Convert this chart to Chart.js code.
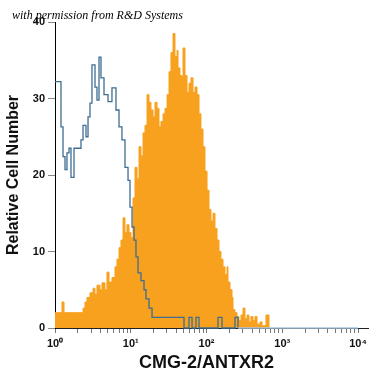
<!DOCTYPE html>
<html>
<head>
<meta charset="utf-8">
<script src="https://cdn.jsdelivr.net/npm/chart.js@4.4.1/dist/chart.umd.min.js"></script>
<style>
  html, body { margin: 0; padding: 0; background: #fff; }
  #wrap { width: 375px; height: 375px; position: relative; }
</style>
</head>
<body>
<div id="wrap"><canvas id="chart_cmg2"></canvas></div>
<script>
// stained cells (orange): bin start in decades (log10 of intensity) and count
var stainLog = [
  0.000, 0.092, 0.119, 0.370, 0.396, 0.422, 0.462, 0.502, 0.528, 0.554,
  0.594, 0.620, 0.660, 0.686, 0.713, 0.752, 0.792, 0.818, 0.845, 0.871,
  0.898, 0.924, 0.950, 0.977, 1.003, 1.030, 1.056, 1.083, 1.109, 1.135,
  1.162, 1.188, 1.215, 1.241, 1.267, 1.294, 1.320, 1.347, 1.373, 1.399,
  1.426, 1.452, 1.479, 1.505, 1.531, 1.558, 1.584, 1.611, 1.624, 1.650,
  1.677, 1.690, 1.716, 1.743, 1.769, 1.795, 1.822, 1.848, 1.875, 1.901,
  1.927, 1.954, 1.980, 2.007, 2.033, 2.059, 2.086, 2.112, 2.139, 2.165,
  2.191, 2.218, 2.244, 2.271, 2.284, 2.310, 2.337, 2.350, 2.376, 2.403,
  2.429, 2.455, 2.482, 2.508, 2.535, 2.561, 2.587, 2.614, 2.640, 2.667,
  2.706, 2.733, 2.785, 2.825
];
var stainCount = [
  2.0, 3.4, 2.0, 2.6, 3.4, 4.0, 4.6, 5.2, 4.4, 5.6,
  5.0, 5.9, 5.0, 7.3, 6.0, 6.6, 8.0, 9.0, 10.5, 11.5,
  14.4, 12.5, 13.5, 12.5, 11.8, 17.0, 21.0, 19.5, 23.7, 22.5,
  25.5, 26.5, 30.5, 29.5, 28.5, 27.6, 29.5, 28.7, 26.3, 27.0,
  28.0, 28.7, 30.5, 33.5, 36.0, 38.5, 35.5, 36.3, 34.0, 33.0,
  32.7, 36.6, 33.0, 30.8, 32.0, 32.7, 30.8, 31.5, 30.5, 28.0,
  26.0, 23.7, 20.5, 18.0, 15.5, 14.0, 15.0, 13.0, 11.5, 10.0,
  9.0, 8.0, 7.0, 8.0, 6.0, 5.0, 4.0, 2.4, 2.0, 1.5,
  1.0, 1.7, 2.6, 1.2, 1.7, 0.8, 1.5, 1.0, 1.5, 0.5,
  0.8, 0.3, 1.7, 0
];

// isotype control (outline)
var isotypeLog = [
  0.000, 0.079, 0.106, 0.132, 0.158, 0.185, 0.211, 0.251, 0.343, 0.370,
  0.409, 0.436, 0.462, 0.488, 0.528, 0.554, 0.581, 0.607, 0.647, 0.700,
  0.752, 0.805, 0.845, 0.884, 0.924, 0.964, 0.990, 1.017, 1.043, 1.069,
  1.096, 1.135, 1.175, 1.201, 1.241, 1.281, 1.703, 1.769, 1.809, 1.861,
  1.901, 2.152, 2.205, 2.376, 2.416, 4.000
];
var isotypeCount = [
  32.2, 26.3, 22.4, 20.7, 22.9, 23.5, 19.7, 23.5, 24.6, 26.5,
  25.0, 27.6, 29.4, 34.4, 31.5, 29.8, 35.4, 32.7, 30.5, 29.6,
  31.4, 28.5, 26.3, 24.6, 21.0, 19.3, 15.8, 13.2, 11.5, 9.3,
  7.2, 6.2, 5.0, 3.8, 2.6, 1.4, 0, 1.4, 0, 1.4,
  0, 1.4, 0, 1.4, 0, 0
];

var xDecades = [1, 10, 100, 1000, 10000];
var xTickLabels = ['10⁰', '10¹', '10²', '10³', '10⁴'];
var yTicks = [0, 10, 20, 30, 40];

function toPoints(logs, counts) {
  return logs.map(function (l, i) {
    return { x: Math.pow(10, l), y: counts[i] };
  });
}

// 1..9 in every decade, then the last decade
var xTickValues = [];
xDecades.forEach(function (d, i) {
  if (i === xDecades.length - 1) { xTickValues.push(d); return; }
  for (var k = 1; k < 10; k++) xTickValues.push(d * k);
});

var chart_cmg2 = new Chart(document.getElementById('chart_cmg2'), {
  type: 'line',
  data: {
    datasets: [
      {
        label: 'Isotype control',
        data: toPoints(isotypeLog, isotypeCount),
        stepped: true,
        fill: false,
        pointRadius: 0,
        borderWidth: 1.3,
        borderColor: '#3e6e92',
        clip: false,
        segment: {
          borderColor: function (ctx) {
            return (ctx.p0.parsed.y === 0 && ctx.p0.parsed.x > 250) ? '#a7c6df' : undefined;
          }
        }
      },
      {
        label: 'CMG-2/ANTXR2',
        data: toPoints(stainLog, stainCount),
        stepped: true,
        fill: 'origin',
        pointRadius: 0,
        borderWidth: 1,
        borderColor: '#f8a11f',
        backgroundColor: '#f8a11f'
      }
    ]
  },
  options: {
    animation: false,
    responsive: true,
    maintainAspectRatio: false,
    layout: { padding: { top: 22, right: 7, left: 0, bottom: 0 } },
    plugins: {
      legend: { display: false },
      tooltip: { enabled: false }
    },
    scales: {
      x: {
        type: 'logarithmic',
        min: 1,
        max: 13550,
        afterBuildTicks: function (scale) {
          scale.ticks = xTickValues.map(function (v) { return { value: v }; });
        },
        afterFit: function (scale) { scale.height = 47; },
        grid: { drawOnChartArea: false, tickLength: 5, tickColor: '#777' },
        border: { color: '#222', width: 1 },
        ticks: {
          autoSkip: false,
          maxRotation: 0,
          padding: 4,
          color: '#111',
          font: { family: '"Liberation Sans", Arial, sans-serif', size: 11, weight: 'bold' },
          callback: function (value) {
            var i = xDecades.indexOf(value);
            return i >= 0 ? xTickLabels[i] : '';
          }
        }
      },
      y: {
        min: 0,
        max: 40,
        afterBuildTicks: function (scale) {
          scale.ticks = yTicks.map(function (v) { return { value: v }; });
        },
        afterFit: function (scale) { scale.width = 55; },
        grid: { drawOnChartArea: false, tickLength: 7, tickColor: '#888' },
        border: { color: '#000', width: 1 },
        ticks: {
          padding: 3,
          color: '#111',
          font: { family: '"Liberation Sans", Arial, sans-serif', size: 11, weight: 'bold' }
        },
        title: {
          display: true,
          text: 'Relative Cell Number',
          color: '#111',
          font: { family: '"Liberation Sans", Arial, sans-serif', size: 16, weight: 'bold' },
          padding: { top: 4, bottom: 0 }
        }
      }
    }
  },
  plugins: [{
    id: 'backgroundAndText',
    beforeDraw: function (chart) {
      var ctx = chart.ctx;
      ctx.save();
      ctx.fillStyle = 'white';
      ctx.fillRect(0, 0, chart.width, chart.height);
      ctx.restore();
    },
    afterDraw: function (chart) {
      var ctx = chart.ctx;
      var area = chart.chartArea;
      ctx.save();
      // x axis title, centred on the 10^0..10^4 span
      ctx.fillStyle = '#111';
      ctx.font = 'bold 18px "Liberation Sans", Arial, sans-serif';
      ctx.textAlign = 'center';
      ctx.textBaseline = 'middle';
      ctx.fillText('CMG-2/ANTXR2', chart.scales.x.getPixelForValue(100), area.bottom + 35);
      // credit line
      ctx.font = 'italic 12px "Liberation Serif", serif';
      ctx.textAlign = 'left';
      ctx.textBaseline = 'alphabetic';
      ctx.fillStyle = '#000';
      ctx.fillText('with permission from R&D Systems', 12, 19);
      ctx.restore();
    }
  }]
});
</script>
</body>
</html>
